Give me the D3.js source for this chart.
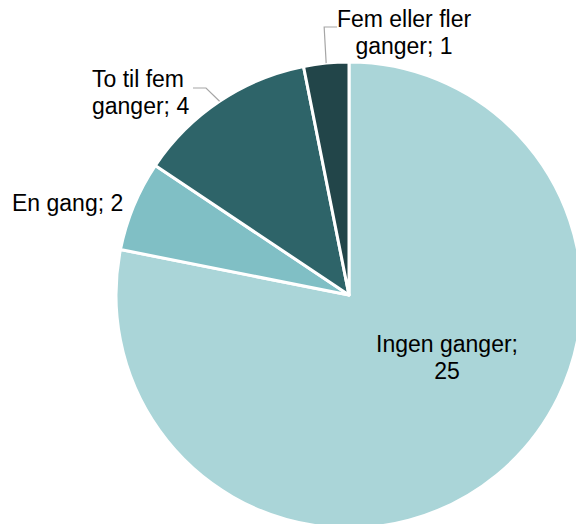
<!DOCTYPE html>
<html>
<head>
<meta charset="utf-8">
<script src="https://cdn.jsdelivr.net/npm/d3@7"></script>
<style>
  body { margin: 0; background: #fff; }
  text { font-family: "Liberation Sans", Arial, sans-serif; font-size: 23px; fill: #000; }
</style>
</head>
<body>
<script>
'use strict';

var categories = ['Ingen ganger', 'En gang', 'To til fem ganger', 'Fem eller fler ganger'];
var values = [25, 2, 4, 1];
var colors = ['#aad5d8', '#80bfc5', '#2e6469', '#224549'];
// label lines (text) per slice
var labelLines = [
    ['Ingen ganger;', '25'],
    ['En gang; 2'],
    ['To til fem', 'ganger; 4'],
    ['Fem eller fler', 'ganger; 1']
];
var labelPos = [[447, 352, 'middle'], [12, 211, 'start'], [92, 87, 'start'], [404, 27, 'middle']];

var width = 576;
var height = 524;
var cx = 349, cy = 295, radius = 233;

var svg = d3.select('body').append('svg')
    .attr('width', width)
    .attr('height', height);

var data = categories.map(function (c, i) { return { name: c, value: values[i], i: i }; });

var pie = d3.pie()
    .sort(null)
    .value(function (d) { return d.value; });

var arc = d3.arc()
    .innerRadius(0)
    .outerRadius(radius);

var arcs = pie(data);

var g = svg.append('g').attr('transform', 'translate(' + cx + ',' + cy + ')');

g.selectAll('path')
    .data(arcs)
    .enter().append('path')
    .attr('d', arc)
    .attr('fill', function (d) { return colors[d.data.i]; })
    .attr('stroke', '#fff')
    .attr('stroke-width', 3)
    .attr('stroke-linejoin', 'round');

// leader lines for the small top slices
function edgePoint(a, r) {
    var ang = (a.startAngle + a.endAngle) / 2;
    return [cx + r * Math.sin(ang), cy - r * Math.cos(ang)];
}
var p3 = edgePoint(arcs[3], radius);
var p2 = edgePoint(arcs[2], radius);
var leaders = [
    [p3, [p3[0] - 2, 27], [337, 27]],
    [p2, [206, 88], [193, 88]]
];
svg.selectAll('polyline')
    .data(leaders)
    .enter().append('polyline')
    .attr('points', function (d) { return d.map(function (p) { return p.join(','); }).join(' '); })
    .attr('fill', 'none')
    .attr('stroke', '#a6a6a6')
    .attr('stroke-width', 1.2);

labelLines.forEach(function (lines, i) {
    var pos = labelPos[i];
    var t = svg.append('text')
        .attr('x', pos[0])
        .attr('y', pos[1])
        .attr('text-anchor', pos[2]);
    lines.forEach(function (l, j) {
        t.append('tspan')
            .attr('x', pos[0])
            .attr('dy', j === 0 ? 0 : 26.5)
            .text(l);
    });
});
</script>
</body>
</html>
